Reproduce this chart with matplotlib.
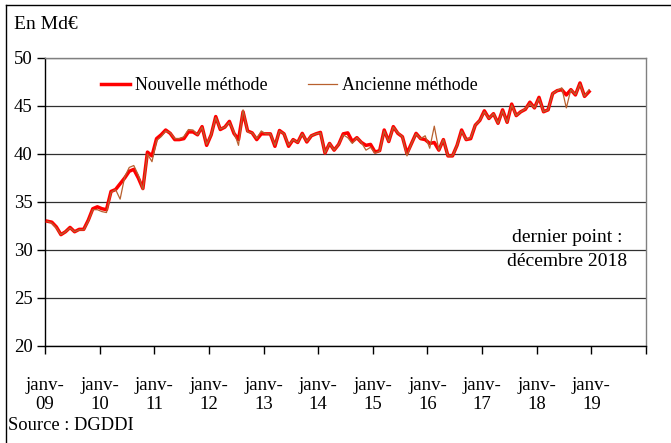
import matplotlib
matplotlib.use('Agg')
import matplotlib.pyplot as plt
import numpy as np
from matplotlib.lines import Line2D

# Monthly values, janv-2009 .. déc-2018 (En Md€)
nouvelle = [
    33.0, 32.9, 32.4, 31.6, 31.9, 32.35, 31.9, 32.15, 32.15, 33.1, 34.3, 34.5,   # 2009
    34.3, 34.2, 36.1, 36.3, 36.9, 37.5, 38.2, 38.4, 37.5, 36.4, 40.2, 39.8,      # 2010
    41.6, 42.0, 42.5, 42.15, 41.5, 41.5, 41.6, 42.3, 42.3, 42.0, 42.85, 40.9,    # 2011
    42.0, 43.9, 42.55, 42.8, 43.4, 42.15, 41.5, 44.4, 42.4, 42.2, 41.5, 42.1,    # 2012
    42.1, 42.1, 40.8, 42.45, 42.1, 40.8, 41.5, 41.2, 42.15, 41.25, 41.9, 42.1,   # 2013
    42.25, 40.1, 41.1, 40.4, 41.0, 42.1, 42.2, 41.3, 41.7, 41.2, 40.9, 41.0,     # 2014
    40.2, 40.35, 42.5, 41.3, 42.85, 42.15, 41.8, 40.05, 41.1, 42.15, 41.6, 41.5, # 2015
    41.1, 41.2, 40.4, 41.5, 39.8, 39.8, 40.9, 42.5, 41.5, 41.6, 43.0, 43.5,      # 2016
    44.5, 43.7, 44.2, 43.2, 44.6, 43.3, 45.2, 44.0, 44.4, 44.65, 45.4, 44.8,     # 2017
    45.9, 44.4, 44.6, 46.3, 46.6, 46.7, 46.15, 46.7, 46.15, 47.4, 46.0, 46.5,    # 2018
]
ancienne = [
    33.0, 32.8, 32.3, 31.6, 31.9, 32.3, 31.9, 32.1, 32.1, 33.0, 34.2, 34.2,      # 2009
    34.0, 33.9, 36.0, 36.3, 35.3, 37.6, 38.6, 38.8, 37.8, 36.3, 40.0, 39.2,      # 2010
    41.4, 41.8, 42.4, 42.2, 41.6, 41.6, 41.8, 42.55, 42.5, 42.0, 42.8, 41.0,     # 2011
    42.0, 43.8, 42.6, 42.8, 43.3, 42.3, 40.9, 44.6, 42.3, 42.2, 41.6, 42.4,      # 2012
    42.1, 42.1, 40.9, 42.4, 42.1, 40.9, 41.5, 41.2, 42.1, 41.3, 41.9, 42.1,      # 2013
    42.2, 40.1, 41.1, 40.4, 41.0, 42.0, 41.7, 41.1, 41.7, 41.2, 40.4, 40.7,      # 2014
    40.1, 40.3, 42.4, 41.3, 42.8, 42.2, 41.8, 39.8, 41.1, 42.1, 41.6, 41.9,      # 2015
    40.6, 42.9, 40.4, 41.5, 39.8, 39.8, 40.9, 42.4, 41.5, 41.7, 43.0, 43.5,      # 2016
    44.4, 43.7, 44.2, 43.2, 44.5, 43.3, 45.1, 44.0, 44.4, 44.7, 45.3, 44.8,      # 2017
    45.8, 44.4, 44.6, 46.3, 46.6, 46.9, 44.8, 46.7, 46.2, 47.3, 46.0, 46.7,      # 2018
]
tick_labels = ['janv-\n09', 'janv-\n10', 'janv-\n11', 'janv-\n12', 'janv-\n13',
               'janv-\n14', 'janv-\n15', 'janv-\n16', 'janv-\n17', 'janv-\n18',
               'janv-\n19', '']
y_ticks = [20, 25, 30, 35, 40, 45, 50]

plt.rcParams['font.family'] = ['Liberation Serif', 'DejaVu Serif']

W, H = 671, 443
fig = plt.figure(figsize=(W / 100, H / 100), dpi=100)
ax = fig.add_axes([45 / W, 1 - 346 / H, (646 - 45) / W, (346 - 58) / H])

x = np.arange(len(nouvelle))
ax.plot(x, nouvelle, color='#FF0000', lw=2.5, solid_joinstyle='round',
        label='Nouvelle méthode', zorder=3)
ax.plot(x, ancienne, color='#B8602E', lw=0.9, label='Ancienne méthode', zorder=4)

ax.set_xlim(-0.5, 131.5)
ax.set_ylim(20, 50)
ax.set_yticks(y_ticks)
ax.set_xticks(np.arange(12) * 12 - 0.5)
ax.set_xticklabels(tick_labels)
ax.yaxis.grid(True, color='#303030', lw=0.9)
ax.set_axisbelow(True)

for s in ['left', 'bottom']:
    ax.spines[s].set_color('black')
    ax.spines[s].set_linewidth(1.0)
ax.spines['top'].set_color('#808080')
ax.spines['right'].set_color('#808080')
ax.spines['top'].set_linewidth(1.0)
ax.spines['right'].set_linewidth(1.0)

ax.tick_params(axis='x', direction='out', length=6, width=1, pad=16,
               labelsize=13.5, colors='black')
ax.tick_params(axis='y', direction='out', length=6, width=1, pad=3,
               labelsize=13.5, colors='black')

ax.legend(loc='center left', bbox_to_anchor=(101 / W, 1 - 86 / H),
          bbox_transform=fig.transFigure, ncol=2, frameon=False,
          fontsize=13, handlelength=1.6, handletextpad=0.3,
          columnspacing=2.2, borderpad=0, borderaxespad=0)

fig.text(14 / W, 1 - 29 / H, 'En Md€', fontsize=14, va='baseline', ha='left')
fig.text(567 / W, 1 - 237 / H, 'dernier point :', fontsize=14,
         ha='center', va='center')
fig.text(567 / W, 1 - 262 / H, 'décembre 2018', fontsize=14,
         ha='center', va='center')
fig.text(8 / W, 1 - 425 / H, 'Source : DGDDI', fontsize=13.3,
         ha='left', va='center')

# outer frame (left and top edges visible)
fig.add_artist(Line2D([6 / W, 6 / W], [0, 1 - 5 / H], transform=fig.transFigure,
                      color='black', lw=1.0))
fig.add_artist(Line2D([6 / W, 1], [1 - 5 / H, 1 - 5 / H], transform=fig.transFigure,
                      color='black', lw=1.0))

fig.savefig('out.png', dpi=100)
